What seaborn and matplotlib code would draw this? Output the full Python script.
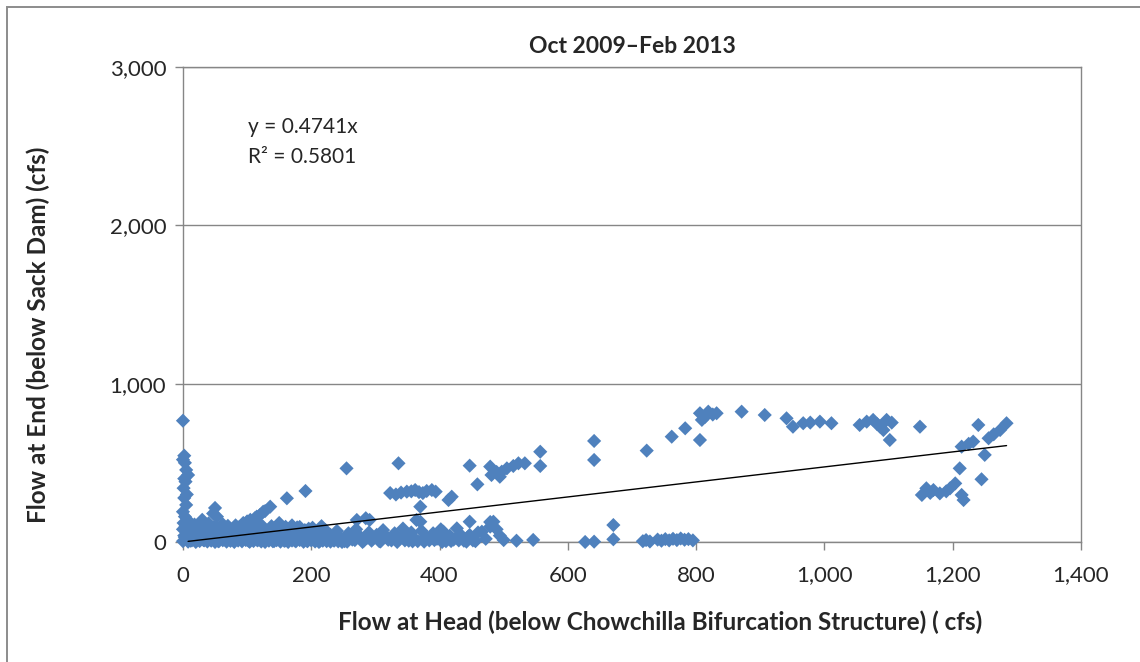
"""
Flow at head vs flow at end scatter, Oct 2009 - Feb 2013.
Run: python plot.py
"""

import numpy as np
import pandas as pd
import matplotlib
matplotlib.use("Agg")
import matplotlib.pyplot as plt
from matplotlib.patches import Rectangle
from matplotlib.ticker import FuncFormatter, MultipleLocator
import seaborn as sns

# ── Data (cfs) ─────────────────────────────────────────
# points hugging x = 0
head_zero = [0, 2, 0, 3, 5, 8, 2, 4, 1, 6, 2, 5, 0, 3, 7, 1, 4, 0, 6, 2, 8, 0, 3, 5]
end_zero = [766, 545, 520, 500, 455, 423, 400, 381, 340, 300, 278, 234,
            191, 160, 140, 120, 100, 80, 60, 40, 20, 5, 30, 70]

# dense low band, 10-225 cfs
head_low = [12, 15, 18, 22, 26, 30, 33, 36, 40, 44, 47, 50, 53, 48, 55, 58,
            62, 66, 70, 74, 78, 82, 86, 90, 94, 98, 102, 106, 110, 115, 118,
            120, 125, 128, 132, 136, 138, 142, 146, 150, 154, 158, 162, 166,
            170, 174, 178, 182, 186, 191, 190, 194, 198, 202, 206, 210, 214,
            218, 222, 225, 100, 105, 112, 120, 128, 10, 20, 28, 38, 64, 84,
            96, 116, 140, 160, 180, 200, 216]
end_low = [8, 55, 110, 25, 85, 140, 10, 60, 118, 30, 180, 215, 160, 95, 5, 70,
           112, 35, 90, 12, 55, 105, 20, 75, 120, 40, 8, 95, 50, 160, 15,
           110, 191, 70, 30, 223, 100, 5, 60, 120, 25, 85, 276, 40,
           105, 10, 65, 95, 30, 322, 75, 5, 50, 90, 20, 60, 8,
           40, 75, 15, 130, 140, 150, 170, 195, 30, 70, 45, 90, 15, 60,
           25, 80, 45, 10, 35, 70, 100]

# filler rows of the solid band near the x axis
head_band = [8, 14, 20, 26, 32, 38, 44, 50, 56, 62, 68, 74, 80, 86, 92, 98,
             104, 110, 116, 122, 128, 134, 140, 146, 152, 158, 164, 170, 176,
             182, 188, 194, 200, 206, 212, 218, 224, 230, 236, 242, 248,
             11, 17, 23, 29, 35, 41, 47, 53, 59, 65, 71, 77, 83, 89, 95, 101,
             107, 113, 119, 125, 131, 137, 143, 149, 155, 161, 167, 173, 179,
             185, 191, 197, 203, 209, 215, 221,
             16, 34, 52, 70, 88, 106, 124, 142, 160, 178, 196, 214]
end_band = [2, 10, 0, 6, 12, 3, 8, 0, 5, 11, 2, 7, 0, 9, 4, 12,
            1, 6, 10, 3, 0, 8, 5, 11, 2, 7, 0, 9, 4, 12, 1, 6, 10, 3,
            0, 8, 5, 2, 9, 4, 0,
            48, 40, 55, 45, 38, 52, 42, 58, 46, 40, 50, 44, 56, 41, 49, 53,
            39, 47, 57, 43, 51, 38, 54, 45, 40, 50, 44, 36, 48, 42, 52, 40,
            46, 38, 44, 35,
            92, 98, 88, 102, 95, 90, 100, 86, 96, 92, 84, 78]

# scattered band, 225-500 cfs
head_mid = [230, 235, 240, 246, 252, 255, 258, 264, 270, 271, 276, 282, 285,
            290, 291, 296, 302, 306, 312, 318, 323, 325, 330, 336, 338, 343,
            349, 349, 352, 356, 360, 362, 364, 366, 370, 370, 372, 374, 378,
            384, 388, 390, 396, 402, 406, 410, 414, 416, 419, 422, 427, 432,
            438, 444, 447, 447, 447, 452, 459, 460, 466, 472, 479, 479, 484,
            489, 494, 500, 356, 368, 380, 394, 340, 332,
            256, 268, 280, 294, 308, 320, 334, 346, 358, 376, 392, 404, 418,
            430, 442, 456, 262, 288, 314, 344, 398, 436]
end_mid = [45, 10, 70, 25, 5, 465, 55, 15, 80, 139, 35, 8, 150,
           60, 139, 20, 45, 5, 75, 30, 309, 10, 55, 497, 20, 85,
           44, 318, 8, 60, 25, 328, 139, 5, 223, 128, 70, 309, 35,
           10, 328, 55, 20, 80, 65, 5, 265, 40, 286, 15, 86, 50,
           8, 30, 128, 44, 482, 10, 364, 60, 65, 20, 97, 126, 128,
           80, 40, 12, 320, 315, 322, 318, 312, 300,
           2, 12, 0, 8, 3, 14, 0, 10, 4, 2, 12, 0, 6,
           10, 2, 5, 35, 28, 40, 32, 38, 26]

# upper cluster around 500 cfs
head_upper = [479, 481, 489, 494, 497, 505, 515, 523, 533, 557, 557, 520, 546]
end_upper = [476, 423, 442, 412, 444, 465, 480, 497, 497, 570, 480, 8, 13]

# 600-1000 cfs
head_high = [627, 641, 641, 641, 671, 671, 723, 762, 783, 806,
             717, 722, 728, 740, 746, 752, 758, 764, 770, 776, 782, 788, 795,
             806, 809, 814, 819, 826, 832, 871, 907, 941, 951, 967, 978, 993,
             1011]
end_high = [0, 2, 638, 518, 17, 107, 577, 665, 718, 644,
            5, 12, 3, 15, 8, 18, 10, 20, 12, 22, 14, 18, 10,
            813, 771, 790, 823, 805, 813, 823, 802, 781, 728, 750, 754, 760,
            750]

# 1000-1300 cfs
head_top = [1055, 1066, 1076, 1082, 1087, 1092, 1097, 1102, 1105, 1149,
            1152, 1159, 1165, 1170, 1180, 1190, 1196, 1204, 1211, 1214, 1217,
            1214, 1225, 1232, 1240, 1245, 1250, 1256, 1264, 1274, 1284]
end_top = [739, 760, 771, 745, 728, 707, 771, 644, 754, 728,
           297, 339, 310, 328, 307, 320, 339, 370, 465, 297, 265,
           602, 620, 634, 739, 396, 550, 655, 680, 707, 750]

TREND_SLOPE = 0.4741
TREND_R2 = 0.5801

TITLE = "Oct 2009\u2013Feb 2013"
X_LABEL = "Flow at Head (below Chowchilla Bifurcation Structure) ( cfs)"
Y_LABEL = "Flow at End (below Sack Dam) (cfs)"

BLUE = "#4F81BD"
GRAY = "#868686"


def main():
    df = pd.DataFrame({
        "head": (head_zero + head_low + head_band + head_mid
                 + head_upper + head_high + head_top),
        "end": (end_zero + end_low + end_band + end_mid
                + end_upper + end_high + end_top),
    })

    sns.set_style("white")
    plt.rcParams["font.family"] = ["Lato", "DejaVu Sans"]

    fig = plt.figure(figsize=(11.4, 6.62), dpi=100)
    ax = fig.add_axes([0.1605, 0.1813, 0.7877, 0.7175])

    # outer chart border (cut off at right and bottom like the source)
    fig.patches.append(Rectangle(
        (7 / 1140, -0.05), 1.2, 1 - 7 / 662 + 0.05,
        transform=fig.transFigure, fill=False,
        edgecolor="#8c8c8c", linewidth=1.4, zorder=0
    ))

    # ── Gridlines ──────────────────────────────────────
    ax.yaxis.set_major_locator(MultipleLocator(1000))
    ax.xaxis.set_major_locator(MultipleLocator(200))
    ax.grid(axis="y", color=GRAY, linewidth=1.0)
    ax.set_axisbelow(True)

    # ── Scatter ────────────────────────────────────────
    sns.scatterplot(
        data=df, x="head", y="end", ax=ax,
        marker="D", s=52, color=BLUE, edgecolor="none",
        linewidth=0, zorder=3, legend=False, clip_on=False
    )

    # ── Linear trendline through origin ────────────────
    xs = np.array([df["head"].min() + 8, df["head"].max()])
    ax.plot(xs, TREND_SLOPE * xs, color="black", linewidth=1.0, zorder=4)

    ax.text(0.072, 0.874, f"y = {TREND_SLOPE}x", transform=ax.transAxes,
            fontsize=15, va="center", ha="left", color="#262626")
    ax.text(0.072, 0.811, f"R\u00b2 = {TREND_R2}", transform=ax.transAxes,
            fontsize=15, va="center", ha="left", color="#262626")

    ax.set_xlim(0, 1400)
    ax.set_ylim(0, 3000)
    fmt = FuncFormatter(lambda v, p: f"{v:,.0f}")
    ax.xaxis.set_major_formatter(fmt)
    ax.yaxis.set_major_formatter(fmt)

    for side in ["left", "right", "top", "bottom"]:
        ax.spines[side].set_visible(True)
        ax.spines[side].set_color(GRAY)
        ax.spines[side].set_linewidth(1.0)

    ax.tick_params(axis="both", direction="out", length=6, width=1.0,
                   color=GRAY, labelsize=16, labelcolor="#262626", pad=6,
                   bottom=True, left=True)
    ax.tick_params(axis="x", pad=11)

    ax.set_xlabel(X_LABEL, fontsize=17.5, fontweight="bold")
    ax.set_ylabel(Y_LABEL, fontsize=17.5, fontweight="bold")
    ax.xaxis.set_label_coords(0.531, -0.145)
    ax.yaxis.set_label_coords(-0.148, 0.436)
    ax.set_title(TITLE, fontsize=16.5, fontweight="bold", pad=10)

    fig.savefig("out.png", dpi=100, facecolor="white")
    plt.close(fig)


if __name__ == "__main__":
    main()
